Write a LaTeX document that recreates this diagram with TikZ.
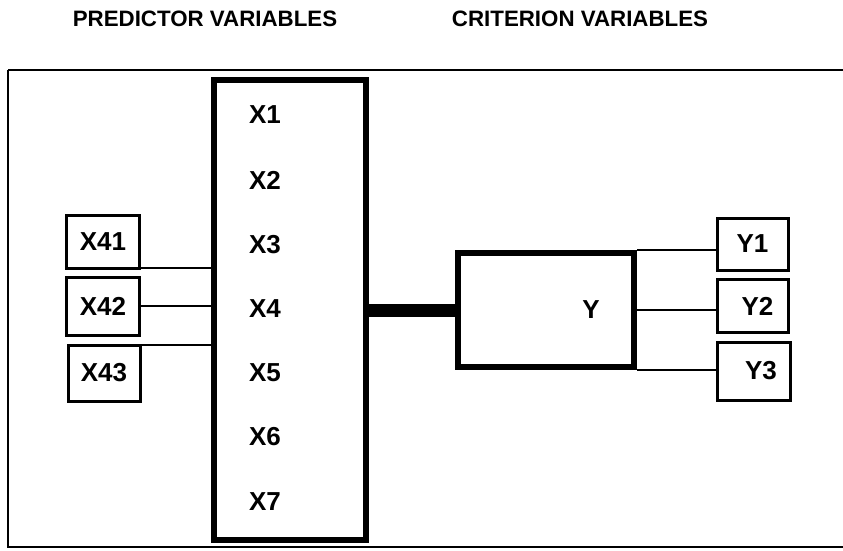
\documentclass[tikz,border=0pt]{standalone}
\usepackage{fontspec}
\setmainfont{Liberation Sans}
\begin{document}
\begin{tikzpicture}[x=1pt,y=-1pt,
  lbl/.style={font=\fontsize{26}{26}\selectfont\bfseries, inner sep=0pt},
  head/.style={font=\fontsize{22.3}{22.3}\selectfont\bfseries, inner sep=0pt},
  bigbox/.style={draw, line width=6pt, inner sep=0pt},
  smallbox/.style={draw, line width=3pt, inner sep=0pt, font=\fontsize{26}{26}\selectfont\bfseries},
  link/.style={line width=2pt},
  fat/.style={line width=13pt}]
\useasboundingbox (0,0) rectangle (843,550);
\draw[line width=2pt] (8,70) -- (846,70) (8,70) -- (8,547) -- (846,547);
\node[head] (hp) at (205,19) {PREDICTOR VARIABLES};
\node[head] (hc) at (580,19) {CRITERION VARIABLES};
% central X box
\node[bigbox, minimum width=152pt, minimum height=460pt] (xbox) at (289.5,310) {};
\node[lbl] (x1) at (265,115) {X1};
\node[lbl] (x2) at (265,180) {X2};
\node[lbl] (x3) at (265,245) {X3};
\node[lbl] (x4) at (265,309) {X4};
\node[lbl] (x5) at (265,373) {X5};
\node[lbl] (x6) at (265,437) {X6};
\node[lbl] (x7) at (265,502) {X7};
% X4 sub boxes
\node[smallbox, minimum width=73pt, minimum height=53pt] (x41) at (103,242) {X41};
\node[smallbox, minimum width=73pt, minimum height=58pt] (x42) at (103,306) {X42};
\node[smallbox, minimum width=72pt, minimum height=56pt] (x43) at (104,373) {X43};
\draw[link] (140,268) coordinate (a1) -- (a1 -| xbox.west);
\draw[link] (x42.east) -- (x42.east -| xbox.west);
\draw[link] (140,345) coordinate (a3) -- (a3 -| xbox.west);
% Y box
\node[bigbox, minimum width=176pt, minimum height=114pt] (ybox) at (546,310) {};
\node[lbl] (ylab) at (591,310) {Y};
\draw[fat] (xbox.east |- 0,310) coordinate (c1) -- (c1 -| ybox.west);
% Y sub boxes
\node[smallbox, minimum width=71pt, minimum height=52pt] (y1) at (752.5,244) {Y1};
\node[smallbox, minimum width=71pt, minimum height=53pt] (y2) at (752.5,306) {\hspace*{10pt}Y2};
\node[smallbox, minimum width=73pt, minimum height=58pt] (y3) at (754,371) {\hspace*{14pt}Y3};
\draw[link] (ybox.north east) -- (ybox.north east -| y1.west);
\draw[link] (ybox.east) -- (ybox.east -| y2.west);
\draw[link] (ybox.south east) -- (ybox.south east -| y3.west);
\end{tikzpicture}
\end{document}
